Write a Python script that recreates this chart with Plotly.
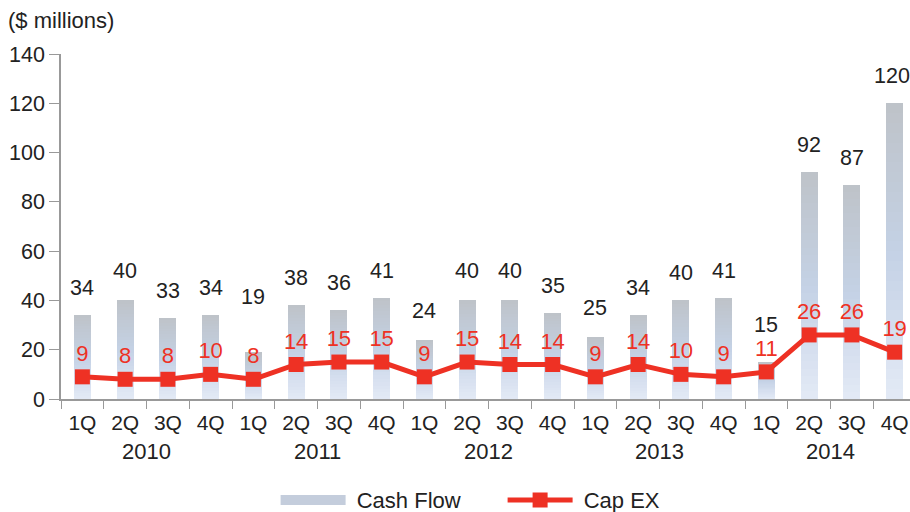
import plotly.graph_objects as go

years = ["2010", "2011", "2012", "2013", "2014"]
quarters = ["1Q", "2Q", "3Q", "4Q"]
cash_flow = [34, 40, 33, 34, 19, 38, 36, 41, 24, 40, 40, 35, 25, 34, 40, 41, 15, 92, 87, 120]
cap_ex = [9, 8, 8, 10, 8, 14, 15, 15, 9, 15, 14, 14, 9, 14, 10, 9, 11, 26, 26, 19]

# label offsets (px) for cash-flow labels (style only)
cf_label_shift = [27, 29, 27, 27, 55, 27, 27, 27, 29, 29, 29, 27, 29, 27, 27, 27, 37, 27, 27, 27]

FONT = "Liberation Sans, Arial, sans-serif"
RED = "#ee3124"
AXIS = "#999999"
TOP = (190, 195, 200)
MID = (196, 209, 229)
BOT = (227, 234, 246)

n = len(cash_flow)
xs = list(range(n))
tick_text = [quarters[i % 4] for i in xs]


def lerp(a, b, t):
    return tuple(int(round(a[j] + (b[j] - a[j]) * t)) for j in range(3))


def grad_color(t):  # t=1 top, t=0 bottom
    if t >= 0.5:
        c = lerp(MID, TOP, (t - 0.5) / 0.5)
    else:
        c = lerp(BOT, MID, t / 0.5)
    return "rgb(%d,%d,%d)" % c


fig = go.Figure()

N = 30
for k in range(N, 0, -1):
    f = k / N
    fig.add_trace(go.Bar(
        x=xs, y=[v * f for v in cash_flow], width=0.4,
        marker=dict(color=grad_color((k - 0.5) / N), line=dict(width=0)),
        showlegend=False, hoverinfo="skip",
    ))

# legend entry for cash flow
fig.add_trace(go.Scatter(
    x=[None], y=[None], mode="lines", name="\u00a0Cash Flow",
    line=dict(color="rgb(196,205,220)", width=15),
))

fig.add_trace(go.Scatter(
    x=xs, y=cap_ex, mode="lines+markers+text", name="\u00a0Cap EX",
    line=dict(color=RED, width=5),
    marker=dict(symbol="square", size=15, color=RED),
    text=[str(v) for v in cap_ex], textposition="top center",
    textfont=dict(color=RED, size=22, family=FONT),
))

for i, v in enumerate(cash_flow):
    fig.add_annotation(x=i, y=v, text=str(v), showarrow=False,
                       yshift=cf_label_shift[i], yanchor="middle",
                       xshift=-3 if i == n - 1 else 0,
                       font=dict(size=21.5, color="#222", family=FONT))

for yi, yr in enumerate(years):
    fig.add_annotation(x=yi * 4 + 1.5, y=0, yref="y", text=yr, showarrow=False,
                       yshift=-52, yanchor="middle",
                       font=dict(size=22, color="#222", family=FONT))

fig.add_annotation(x=0, xref="paper", xanchor="left", y=1, yref="paper", yanchor="middle",
                   xshift=-55, yshift=34,
                   text="($ millions)", showarrow=False,
                   font=dict(size=22, color="#222", family=FONT))

fig.update_layout(
    width=918, height=530,
    margin=dict(l=61, r=2, t=54, b=131),
    barmode="overlay", bargap=0,
    plot_bgcolor="white", paper_bgcolor="white",
    font=dict(family=FONT, size=21, color="#222"),
    showlegend=True,
    legend=dict(orientation="h", x=0.251, xanchor="left", y=-0.293, yanchor="middle",
                font=dict(size=22, color="#222", family=FONT), itemwidth=65,
                entrywidth=147, entrywidthmode="pixels",
                traceorder="normal"),
)
fig.update_xaxes(
    range=[-0.5, 19.5], tickmode="array", tickvals=xs, ticktext=tick_text,
    ticks="", showgrid=False, zeroline=False,
    showline=True, linecolor=AXIS, linewidth=1.5,
    ticklabelstandoff=4,
    tickfont=dict(size=21, color="#222", family=FONT),
    minor=dict(tickmode="linear", tick0=0.5, dtick=1, ticks="outside", ticklen=8,
               tickcolor=AXIS, tickwidth=1.2, showgrid=False),
)
fig.update_yaxes(
    range=[0, 140], tickmode="linear", tick0=0, dtick=20,
    ticks="outside", ticklen=10, tickcolor=AXIS, tickwidth=1.2,
    showgrid=False, zeroline=False, showline=True, linecolor=AXIS, linewidth=1.5,
    tickfont=dict(size=21.5, color="#222", family=FONT),
)

fig.write_html(
    "out.html",
    config={"displayModeBar": False},
    post_script="document.body.style.margin='0';document.body.style.overflow='hidden';",
)
